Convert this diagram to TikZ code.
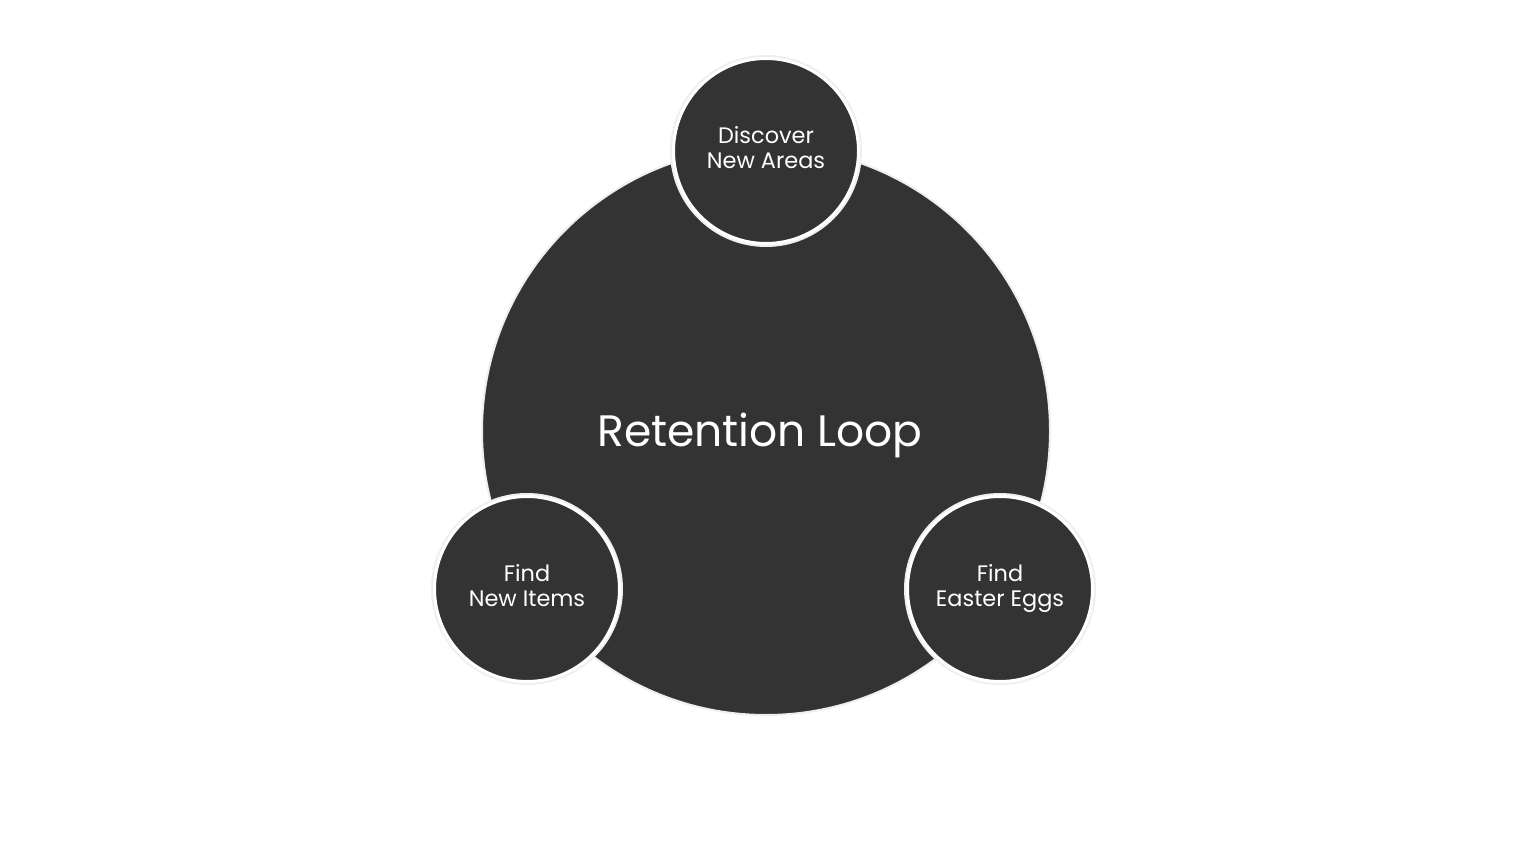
\documentclass[tikz,border=0pt]{standalone}
\usepackage{fontspec}
\setmainfont{Poppins}
\definecolor{dark}{HTML}{333333}
\definecolor{ringgray}{HTML}{EFEFEF}
\tikzset{
  bigcirc/.style={circle, fill=dark, draw=ringgray, line width=1pt, minimum size=284pt, inner sep=0pt},
  titletext/.style={text=white, font=\fontsize{22}{26}\selectfont, inner sep=0pt, anchor=base},
  smallcirc/.style={circle, fill=dark, draw=white, line width=1.5pt, minimum size=92.5pt, inner sep=0pt,
    preaction={draw=ringgray, line width=3.5pt},
    text=white, align=center, font=\fontsize{11.2}{12.6}\selectfont}
}
\begin{document}
\begin{tikzpicture}[x=0.5pt,y=-0.5pt]
\fill[white] (0,0) rectangle (1536,865);
\useasboundingbox (0,0) rectangle (1536,865);
\node[bigcirc] (loop) at (766,431) {};
\node[titletext] (title) at (760,447) {Retention Loop};
\node[smallcirc] (areas) at (766,151) {Discover\strut\\New Areas\strut};
\node[smallcirc] (items) at (527,589) {\raisebox{-1pt}{\begin{tabular}{@{}c@{}}Find\strut\\New Items\strut\end{tabular}}};
\node[smallcirc] (eggs) at (1000,589) {\raisebox{-1pt}{\begin{tabular}{@{}c@{}}Find\strut\\Easter Eggs\strut\end{tabular}}};
\end{tikzpicture}
\end{document}
